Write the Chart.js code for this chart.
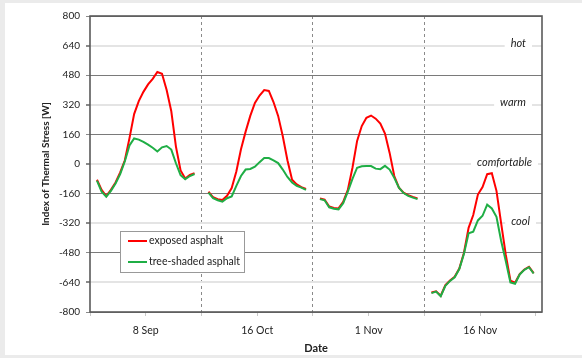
<!DOCTYPE html>
<html>
<head>
<meta charset="utf-8">
<script src="https://cdn.jsdelivr.net/npm/chart.js@4/dist/chart.umd.min.js"></script>
<style>
  html, body { margin: 0; padding: 0; background: #fff; }
  #wrap { width: 582px; height: 358px; position: relative; }
</style>
</head>
<body>
<div id="wrap"><canvas id="chart"></canvas></div>
<script>
// Data: one value per hour, 4 separate days
const dayLabels = ['8 Sep', '16 Oct', '1 Nov', '16 Nov'];
const hourOfDay = [1.5, 2.5, 3.5, 4.5, 5.5, 6.5, 7.5, 8.5, 9.5, 10.5, 11.5, 12.5,
  13.5, 14.5, 15.5, 16.5, 17.5, 18.5, 19.5, 20.5, 21.5, 22.5, 23.5];

const exposedSep8 = [-85, -140, -173, -140, -100, -45, 20, 140, 270, 340, 390, 430,
  460, 497, 488, 400, 285, 94, -35, -78, -59, -50];
const exposedOct16 = [-150, -180, -190, -195, -172, -130, -40, 80, 175, 260, 330, 370,
  400, 395, 335, 260, 150, 20, -85, -110, -125, -135];
const exposedNov1 = [-186, -192, -230, -238, -240, -205, -140, -20, 125, 205, 250, 262,
  245, 218, 165, 60, -65, -128, -155, -168, -178, -186];
const exposedNov16 = [-695, -688, -712, -655, -630, -610, -565, -480, -345, -276, -165, -125,
  -55, -50, -145, -320, -490, -630, -642, -595, -570, -556, -590];

const shadedSep8 = [-90, -150, -177, -145, -105, -55, 15, 100, 138, 132, 120, 105,
  88, 68, 90, 97, 78, 4, -60, -82, -65, -54];
const shadedOct16 = [-155, -185, -196, -204, -185, -175, -118, -65, -30, -27, -15, 10,
  32, 32, 20, 5, -30, -70, -100, -118, -128, -140];
const shadedNov1 = [-190, -196, -234, -242, -245, -212, -150, -80, -20, -12, -11, -11,
  -25, -28, -10, -30, -75, -128, -157, -172, -182, -190];
const shadedNov16 = [-698, -690, -715, -658, -632, -612, -568, -485, -375, -366, -305, -280,
  -220, -240, -285, -415, -525, -640, -647, -597, -572, -558, -592];

const yTicks = [-800, -640, -480, -320, -160, 0, 160, 320, 480, 640, 800];
const zoneNames = ['hot', 'warm', 'comfortable', 'cool'];
const zoneValues = [640, 320, 0, -320];

const exposed = [exposedSep8, exposedOct16, exposedNov1, exposedNov16];
const shaded = [shadedSep8, shadedOct16, shadedNov1, shadedNov16];

// turn the day arrays into x/y points, with a null between days to break the line
function toPoints(days) {
  const pts = [];
  days.forEach((vals, d) => {
    vals.forEach((v, i) => pts.push({ x: d * 24 + hourOfDay[i], y: v }));
    pts.push({ x: d * 24 + 24, y: null });
  });
  return pts;
}

const FONT = 'Lato, "Open Sans", sans-serif';

const frame = {
  id: 'frame',
  beforeDraw(chart) {
    const c = chart.ctx;
    c.save();
    c.fillStyle = '#ebebeb';
    c.fillRect(0, 0, chart.width, chart.height);
    c.fillStyle = '#fff';
    c.fillRect(5, 3, chart.width - 5, chart.height - 6);
    c.restore();
  },
  beforeDatasetsDraw(chart) {
    const c = chart.ctx;
    const y = chart.scales.y;
    const rightEdge = [526, 526, 532, 530];
    c.save();
    c.font = 'italic 11px ' + FONT;
    c.textAlign = 'right';
    c.textBaseline = 'middle';
    zoneNames.forEach((name, i) => {
      const py = y.getPixelForValue(zoneValues[i]);
      const w = c.measureText(name).width;
      c.fillStyle = '#fff';
      c.fillRect(rightEdge[i] - w - 6, py - 3, w + 12, 6);
      c.fillStyle = '#222';
      c.fillText(name, rightEdge[i], py - 2);
    });
    c.restore();
  },
  afterDraw(chart) {
    const c = chart.ctx;
    const a = chart.chartArea;
    c.save();
    c.strokeStyle = '#5a5a5a';
    c.lineWidth = 1.6;
    c.strokeRect(a.left, a.top, a.right - a.left, a.bottom - a.top);

    // legend box
    const lx = 120, ly = 231, lw = 124, lh = 41;
    c.fillStyle = '#fff';
    c.fillRect(lx, ly, lw, lh);
    c.strokeStyle = '#999';
    c.lineWidth = 1;
    c.strokeRect(lx + 0.5, ly + 0.5, lw, lh);
    c.font = '10.5px ' + FONT;
    c.textBaseline = 'middle';
    c.textAlign = 'left';
    const items = [chart.data.datasets[1], chart.data.datasets[0]];
    items.forEach((ds, i) => {
      const yy = ly + 10 + i * 21;
      c.strokeStyle = ds.borderColor;
      c.lineWidth = 2;
      c.beginPath();
      c.moveTo(lx + 8, yy);
      c.lineTo(lx + 27, yy);
      c.stroke();
      c.fillStyle = '#222';
      c.fillText(ds.label, lx + 29, yy);
    });
    c.restore();
  }
};

new Chart(document.getElementById('chart'), {
  type: 'line',
  data: {
    datasets: [
      {
        label: 'tree-shaded asphalt',
        data: toPoints(shaded),
        borderColor: '#1fae45',
        borderWidth: 2,
        pointRadius: 0,
        spanGaps: false,
        tension: 0
      },
      {
        label: 'exposed asphalt',
        data: toPoints(exposed),
        borderColor: '#ff0000',
        borderWidth: 2,
        pointRadius: 0,
        spanGaps: false,
        tension: 0
      }
    ]
  },
  options: {
    responsive: true,
    maintainAspectRatio: false,
    animation: false,
    layout: { padding: { left: 0, top: 16, right: 40, bottom: 0 } },
    plugins: {
      legend: { display: false },
      tooltip: { enabled: false }
    },
    scales: {
      x: {
        type: 'linear',
        min: 0,
        max: 97.3,
        afterBuildTicks(scale) {
          scale.ticks = [0, 12, 24, 36, 48, 60, 72, 84, 96].map(v => ({ value: v }));
        },
        afterFit(scale) { scale.height = 46; },
        border: { display: false, dash: [3, 3] },
        grid: {
          color: ctx => [24, 48, 72].includes(ctx.tick && ctx.tick.value) ? '#8a8a8a' : 'rgba(0,0,0,0)',
          lineWidth: 1,
          tickColor: '#c8c8c8',
          tickLength: 4
        },
        ticks: {
          autoSkip: false,
          maxRotation: 0,
          padding: 8,
          color: '#222',
          font: { family: FONT, size: 10.5 },
          callback: v => {
            const i = [12, 36, 60, 84].indexOf(v);
            return i >= 0 ? dayLabels[i] : '';
          }
        },
        title: {
          display: true,
          text: 'Date',
          color: '#222',
          font: { family: FONT, size: 11, weight: 'bold' },
          padding: { top: 0, bottom: 3 }
        }
      },
      y: {
        min: -800,
        max: 800,
        afterBuildTicks(scale) {
          scale.ticks = yTicks.map(v => ({ value: v }));
        },
        afterFit(scale) { scale.width = 90; },
        border: { display: false },
        grid: {
          color: ctx => {
            const v = Math.abs(ctx.tick ? ctx.tick.value : 0);
            return (v === 160 || v === 480 || v === 800) ? '#7a7a7a' : '#e4e4e4';
          },
          lineWidth: ctx => {
            const v = Math.abs(ctx.tick ? ctx.tick.value : 0);
            return (v === 160 || v === 480 || v === 800) ? 1 : 2;
          },
          tickColor: '#8a8a8a',
          tickLength: 4
        },
        ticks: {
          padding: 6,
          color: '#222',
          font: { family: FONT, size: 10 }
        },
        title: {
          display: true,
          text: 'Index of Thermal Stress [W]',
          color: '#222',
          font: { family: FONT, size: 10, weight: 'bold' },
          padding: { top: 40, bottom: 0 }
        }
      }
    }
  },
  plugins: [frame]
});
</script>
</body>
</html>
